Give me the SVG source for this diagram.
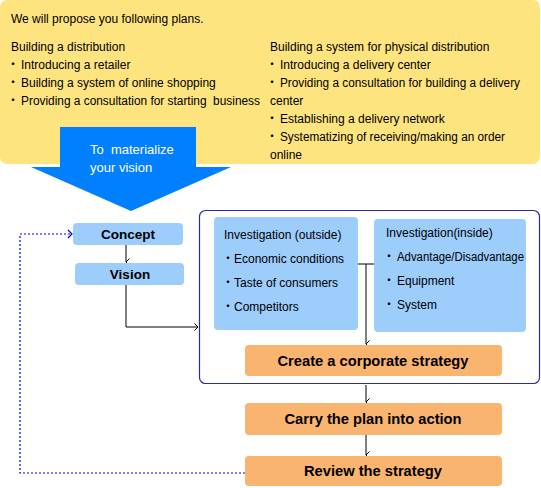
<svg xmlns="http://www.w3.org/2000/svg" width="541" height="488" viewBox="0 0 541 488">
<style>
text{white-space:pre}
.t{font-family:"Liberation Sans","Noto Sans CJK JP",sans-serif;font-size:12px;fill:#000}
.w{font-family:"Liberation Sans","Noto Sans CJK JP",sans-serif;font-size:13px;fill:#fff}
.b{font-family:"Liberation Sans","Noto Sans CJK JP",sans-serif;font-size:13.5px;font-weight:bold;fill:#000;text-anchor:middle}
.bl{font-size:14.7px}
.lb{fill:#9DCDFB}
.or{fill:#F9B56F}
.c{stroke:#000;stroke-width:1;fill:none}
.d{stroke:#0000EE;stroke-width:1.2;fill:none;stroke-dasharray:2 2}
</style>
<defs>
<marker id="a" markerWidth="8" markerHeight="8" refX="4" refY="7" orient="auto-start-reverse" markerUnits="userSpaceOnUse" viewBox="0 0 8 8">
<path d="M0.5,3.5 L4,7 L7.5,3.5" fill="none" stroke="#000" stroke-width="1"/>
</marker>
<marker id="ab" markerWidth="8" markerHeight="10" refX="7" refY="5" orient="auto" markerUnits="userSpaceOnUse" viewBox="0 0 8 10">
<path d="M3,1 L7,5 L3,9" fill="none" stroke="#0000EE" stroke-width="1.2"/>
</marker>
<marker id="ar" markerWidth="8" markerHeight="8" refX="7" refY="4" orient="auto" markerUnits="userSpaceOnUse" viewBox="0 0 8 8">
<path d="M3.5,0.5 L7,4 L3.5,7.5" fill="none" stroke="#000" stroke-width="1"/>
</marker>
</defs>

<g id="plans">
<rect x="0" y="0" width="540" height="164" rx="7" fill="#FDE47F"/>
<text class="t" x="11" y="23">We will propose you following plans.</text>
<text class="t" x="11" y="51">Building a distribution</text>
<text class="t" x="7" y="69">・</text><text class="t" x="21" y="69">Introducing a retailer</text>
<text class="t" x="7" y="87">・</text><text class="t" x="21" y="87">Building a system of online shopping</text>
<text class="t" x="7" y="105">・</text><text class="t" x="21" y="105" textLength="239" lengthAdjust="spacingAndGlyphs">Providing a consultation for starting  business</text>
<text class="t" x="270" y="51">Building a system for physical distribution</text>
<text class="t" x="266" y="69">・</text><text class="t" x="280" y="69">Introducing a delivery center</text>
<text class="t" x="266" y="87">・</text><text class="t" x="280" y="87" textLength="240" lengthAdjust="spacingAndGlyphs">Providing a consultation for building a delivery</text>
<text class="t" x="270" y="105">center</text>
<text class="t" x="266" y="123">・</text><text class="t" x="280" y="123">Establishing a delivery network</text>
<text class="t" x="266" y="141">・</text><text class="t" x="280" y="141" textLength="225" lengthAdjust="spacingAndGlyphs">Systematizing of receiving/making an order</text>
<text class="t" x="270" y="159">online</text>
</g>

<g id="vision-arrow">
<path d="M60,127 L196,127 L196,167 L231,167 L131,211 L31,167 L60,167 Z" fill="#007FFF"/>
<text class="w" x="90" y="154">To  materialize</text>
<text class="w" x="90" y="172">your vision</text>
</g>

<g id="connectors">
<line class="c" x1="126" y1="245" x2="126" y2="262" marker-end="url(#a)"/>
<polyline class="c" points="126,285 126,327 198,327" marker-end="url(#ar)"/>
<line class="c" x1="358" y1="264" x2="374" y2="264"/>
<line class="c" x1="366" y1="264" x2="366" y2="344" marker-end="url(#a)"/>
<line class="c" x1="366" y1="385" x2="366" y2="402" marker-end="url(#a)"/>
<line class="c" x1="366" y1="435" x2="366" y2="455" marker-end="url(#a)"/>
<polyline class="d" points="245,473 20,473 20,234 72,234" marker-end="url(#ab)"/>
</g>

<g id="concept">
<rect class="lb" x="73" y="223" width="110" height="22" rx="4"/>
<text class="b" x="128" y="239">Concept</text>
</g>
<g id="vision">
<rect class="lb" x="75" y="263" width="109" height="22" rx="4"/>
<text class="b" x="130" y="279">Vision</text>
</g>

<g id="strategy-group">
<rect x="199.5" y="210.5" width="340" height="173" rx="6" fill="none" stroke="#2A2AA8" stroke-width="1.2"/>
</g>

<g id="investigation-outside">
<rect class="lb" x="214" y="217" width="144" height="113" rx="4"/>
<text class="t" x="224" y="239">Investigation (outside)</text>
<text class="t" x="222" y="263">・</text><text class="t" x="234" y="263">Economic conditions</text>
<text class="t" x="222" y="287">・</text><text class="t" x="234" y="287">Taste of consumers</text>
<text class="t" x="222" y="311">・</text><text class="t" x="234" y="311">Competitors</text>
</g>

<g id="investigation-inside">
<rect class="lb" x="374" y="219" width="152" height="113" rx="4"/>
<text class="t" x="386" y="237">Investigation(inside)</text>
<text class="t" x="383" y="261">・</text><text class="t" x="397" y="261" textLength="127" lengthAdjust="spacingAndGlyphs">Advantage/Disadvantage</text>
<text class="t" x="383" y="285">・</text><text class="t" x="397" y="285">Equipment</text>
<text class="t" x="383" y="309">・</text><text class="t" x="397" y="309">System</text>
</g>

<g id="create">
<rect class="or" x="245" y="345" width="257" height="31" rx="4"/>
<text class="b bl" x="373" y="366">Create a corporate strategy</text>
</g>
<g id="carry">
<rect class="or" x="245" y="403" width="257" height="32" rx="4"/>
<text class="b bl" x="373" y="424">Carry the plan into action</text>
</g>
<g id="review">
<rect class="or" x="245" y="456" width="257" height="30" rx="4"/>
<text class="b bl" x="373" y="476">Review the strategy</text>
</g>
</svg>
